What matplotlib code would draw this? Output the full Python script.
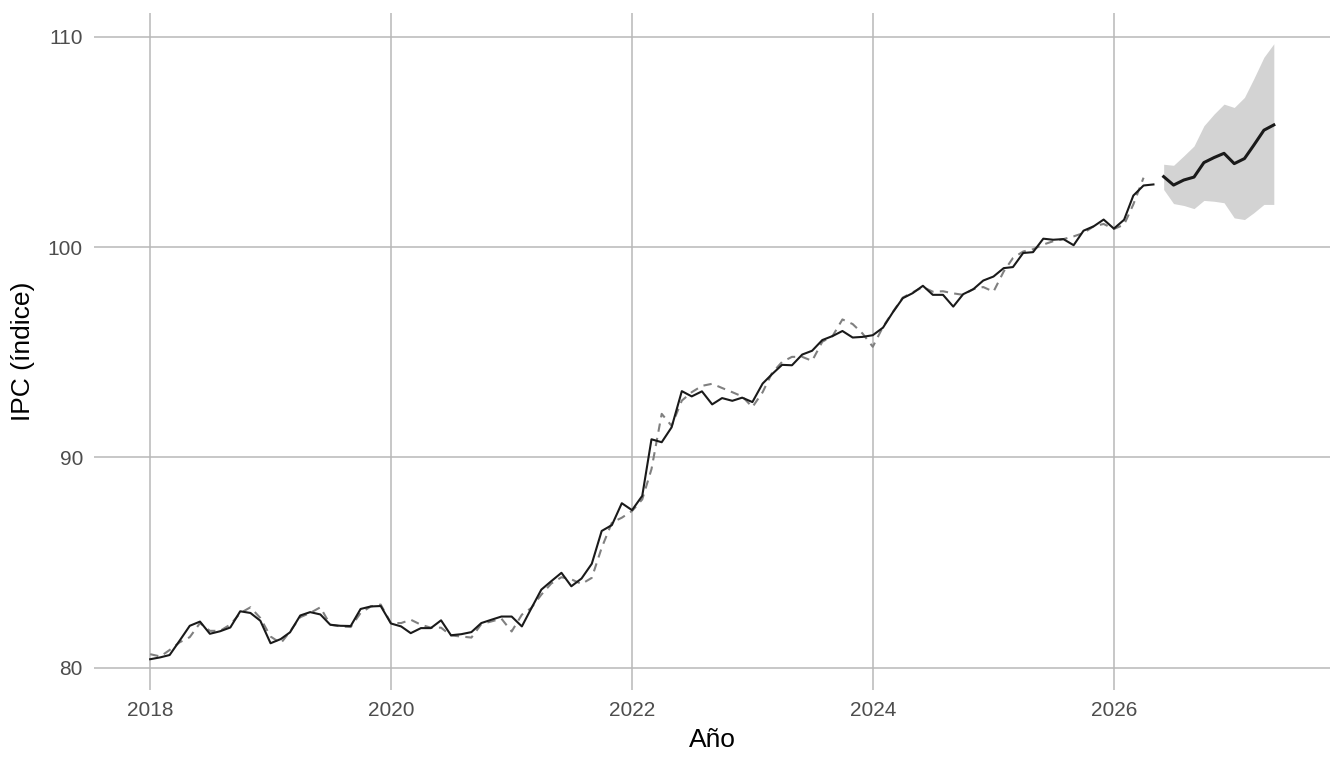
import matplotlib
matplotlib.use("Agg")
import matplotlib.pyplot as plt
import matplotlib.dates as mdates
import pandas as pd
import numpy as np

# ---- data ----
actual_start = "2018-01-01"
actual = [80.40, 80.49, 80.60, 81.30, 81.99, 82.19, 81.61, 81.73, 81.91, 82.68,
          82.60, 82.23, 81.16, 81.36, 81.68, 82.48, 82.64, 82.53, 82.04, 81.99,
          81.98, 82.79, 82.91, 82.93, 82.10, 81.96, 81.64, 81.88, 81.88, 82.25,
          81.54, 81.59, 81.69, 82.12, 82.28, 82.43, 82.43, 81.96, 82.80, 83.71,
          84.11, 84.51, 83.87, 84.24, 84.94, 86.50, 86.78, 87.82, 87.49, 88.17,
          90.86, 90.72, 91.43, 93.15, 92.90, 93.14, 92.52, 92.82, 92.69, 92.84,
          92.63, 93.51, 93.95, 94.40, 94.38, 94.89, 95.07, 95.58, 95.77, 96.01,
          95.70, 95.73, 95.81, 96.17, 96.88, 97.57, 97.81, 98.16, 97.73, 97.73,
          97.17, 97.76, 98.00, 98.41, 98.60, 99.00, 99.05, 99.72, 99.76, 100.40,
          100.35, 100.38, 100.09, 100.78, 100.99, 101.31, 100.88, 101.30, 102.45, 102.93,
          102.98]
fitted = [80.64, 80.53, 80.84, 81.21, 81.45, 82.12, 81.75, 81.75, 82.05, 82.59,
          82.87, 82.36, 81.48, 81.16, 81.72, 82.40, 82.60, 82.87, 82.04, 81.96,
          81.93, 82.60, 82.91, 83.00, 82.12, 82.12, 82.28, 82.04, 81.90, 81.90,
          81.53, 81.48, 81.43, 82.07, 82.20, 82.33, 81.72, 82.52, 82.83, 83.47,
          84.00, 84.30, 84.20, 83.98, 84.27, 85.70, 86.90, 87.13, 87.45, 88.00,
          89.44, 92.07, 91.50, 92.70, 93.10, 93.40, 93.50, 93.30, 93.10, 92.90,
          92.39, 93.10, 94.00, 94.54, 94.78, 94.78, 94.59, 95.50, 95.77, 96.56,
          96.34, 95.89, 95.26, 96.21, 96.90, 97.60, 97.85, 98.10, 97.88, 97.90,
          97.80, 97.73, 98.00, 98.10, 97.88, 98.84, 99.48, 99.79, 99.90, 100.12,
          100.28, 100.38, 100.51, 100.67, 100.99, 101.10, 100.86, 101.07, 102.03, 103.30]
forecast_start = "2026-06-01"
forecast = [103.35, 102.95, 103.19, 103.33, 104.02, 104.26, 104.46, 103.97, 104.21, 104.84, 105.56, 105.81]
upper = [103.94, 103.89, 104.34, 104.81, 105.77, 106.33, 106.80, 106.64, 107.12, 108.00, 109.03, 109.67]
lower = [102.74, 102.07, 101.98, 101.83, 102.22, 102.18, 102.11, 101.39, 101.31, 101.63, 102.03, 102.03]
y_ticks = [80, 90, 100, 110]
x_tick_years = [2018, 2020, 2022, 2024, 2026]
x_label = "Año"
y_label = "IPC (índice)"

# ---- plot ----
plt.rcParams['font.family'] = ['Liberation Sans', 'DejaVu Sans']

d_act = pd.date_range(actual_start, periods=len(actual), freq="MS")
d_fit = pd.date_range(actual_start, periods=len(fitted), freq="MS")
d_fc = pd.date_range(forecast_start, periods=len(forecast), freq="MS")

fig = plt.figure(figsize=(13.44, 7.68), dpi=100)
ax = fig.add_axes([94/1344, 1-690/768, (1330-94)/1344, (690-13)/768])

grid_c = "#b8b8b8"
ax.fill_between(d_fc, lower, upper, color="#d3d3d3", linewidth=0, zorder=2)
ax.plot(d_fit, fitted, color="#808080", linewidth=1.5, linestyle=(0, (4, 3)), zorder=3)
ax.plot(d_act, actual, color="#1a1a1a", linewidth=1.5, zorder=4)
ax.plot(d_fc, forecast, color="#1a1a1a", linewidth=2.2, zorder=5)

xmin = pd.Timestamp(actual_start)
xmax = d_fc[-1]
span = xmax - xmin
ax.set_xlim(xmin - span * 0.05, xmax + span * 0.05)
ymin = min(min(actual), min(fitted), min(lower))
ymax = max(max(actual), max(fitted), max(upper))
yr = ymax - ymin
ax.set_ylim(ymin - 0.05 * yr, ymax + 0.05 * yr)

ax.set_xticks([pd.Timestamp(f"{y}-01-01") for y in x_tick_years])
ax.xaxis.set_major_formatter(mdates.DateFormatter("%Y"))
ax.set_yticks(y_ticks)

ax.grid(True, color=grid_c, linewidth=1.1, zorder=0)
ax.set_axisbelow(True)
for s in ax.spines.values():
    s.set_visible(False)
ax.tick_params(axis="both", length=0, labelsize=15, labelcolor="#4d4d4d", pad=8)
ax.set_xlabel(x_label, fontsize=19, color="black", labelpad=6)
ax.set_ylabel(y_label, fontsize=19, color="black", labelpad=9)

fig.savefig("out.png", dpi=100, facecolor="white")
